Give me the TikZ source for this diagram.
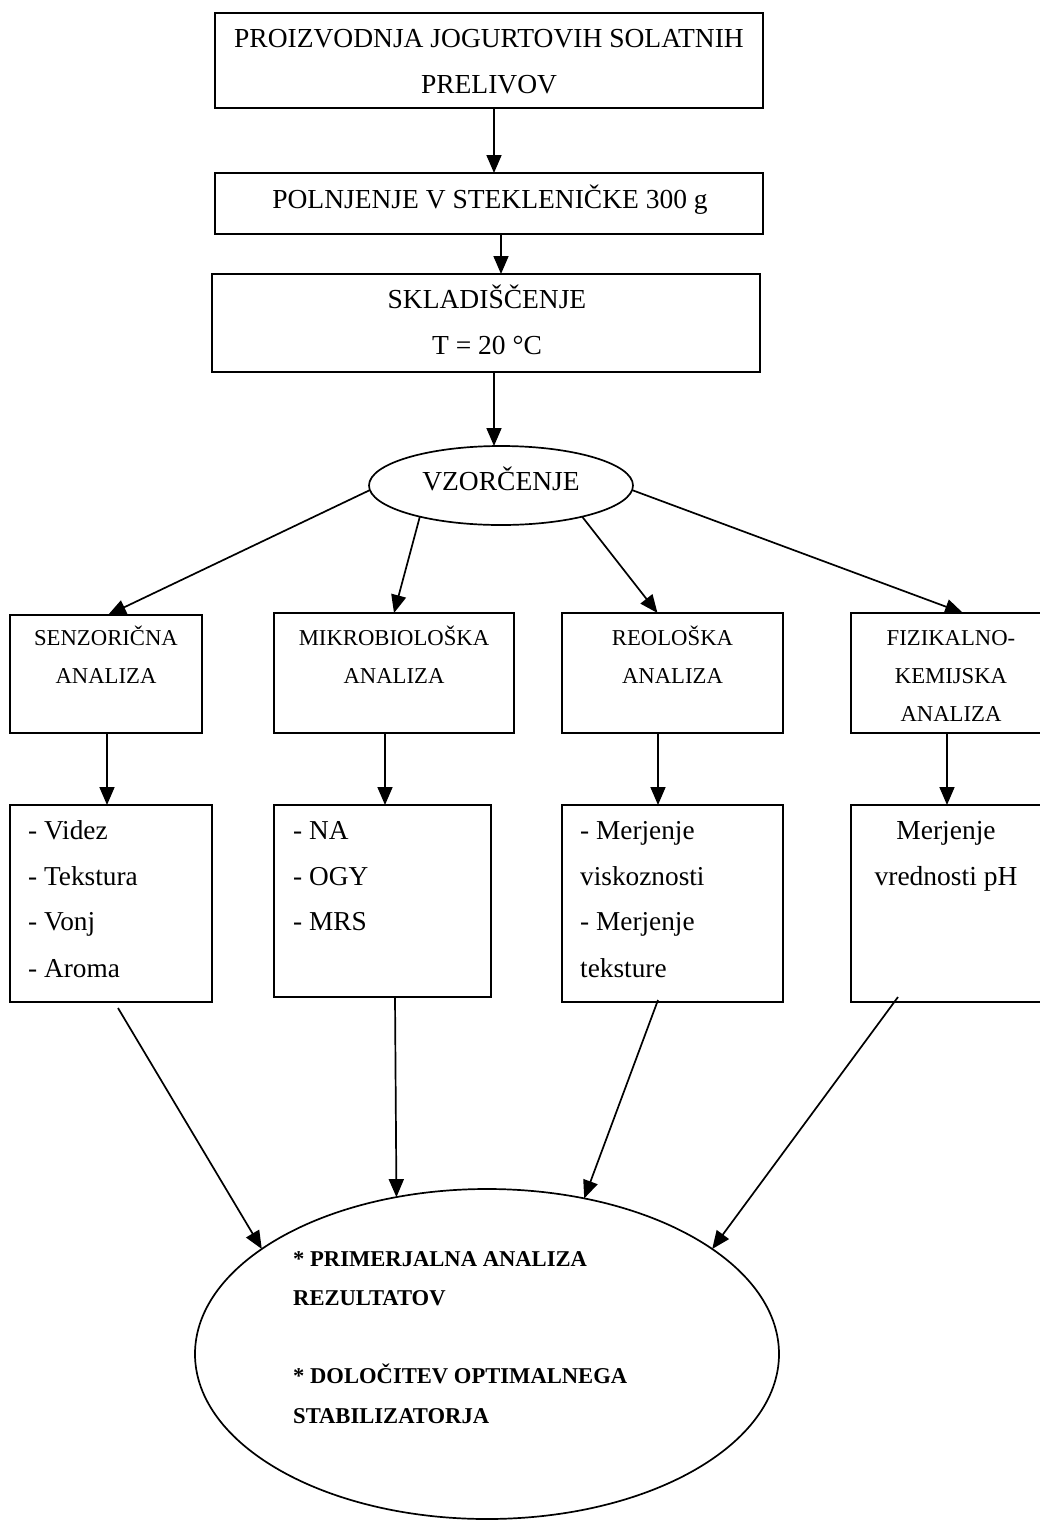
\documentclass[tikz,border=0pt]{standalone}
\usepackage{fontspec}
\setmainfont{Liberation Serif}
\usetikzlibrary{arrows.meta,calc,shapes.geometric}
\begin{document}
\begin{tikzpicture}[x=1pt,y=-1pt,
  box/.style={draw, rectangle, line width=1.9pt, inner sep=0pt, outer sep=0pt},
  oval/.style={draw, ellipse, line width=1.7pt, inner sep=0pt, outer sep=0pt},
  arr/.style={line width=1.7pt, -{Triangle[length=18pt,width=15pt]}},
  ta/.style={inner sep=0pt, anchor=base, font=\fontsize{27.5}{31}\selectfont},
  tal/.style={inner sep=0pt, anchor=base west, font=\fontsize{27.3}{31}\selectfont},
  tb/.style={inner sep=0pt, anchor=base, font=\fontsize{22.7}{26}\selectfont},
  tc/.style={inner sep=0pt, anchor=base west, font=\fontsize{22.6}{26}\selectfont\bfseries}]
\useasboundingbox (0,0) rectangle (1040,1521);

% top chain
\node[box, minimum width=548pt, minimum height=95pt] (b1) at (489,60.5) {};
\node[ta] (b1a) at (489,47) {PROIZVODNJA JOGURTOVIH SOLATNIH};
\node[ta] (b1b) at (489,93) {PRELIVOV};

\node[box, minimum width=548pt, minimum height=61pt] (b2) at (489,203.5) {};
\node[ta] (b2a) at (490,208) {POLNJENJE V STEKLENIČKE 300 g};

\node[box, minimum width=548pt, minimum height=98pt] (b3) at (486,323) {};
\node[ta] (b3a) at (487,308) {SKLADIŠČENJE};
\node[ta] (b3b) at (487,354) {T = 20 °C};

\node[oval, minimum width=264pt, minimum height=79pt] (vz) at (501,485.5) {};
\node[ta] (vzt) at (501,490) {VZORČENJE};

\draw[arr] ($(b1.south)+(5,0)$) -- ($(b2.north)+(5,0)$);
\draw[arr] ($(b2.south)+(12,0)$) -- ($(b3.north)+(15,0)$);
\draw[arr] ($(b3.south)+(8,0)$) -- ($(vz.north)+(-7,0)$);

% row 2
\node[box, minimum width=192pt, minimum height=118pt] (s1) at (106,674) {};
\node[tb] (s1a) at (106,645) {SENZORIČNA};
\node[tb] (s1b) at (106,683) {ANALIZA};

\node[box, minimum width=240pt, minimum height=120pt] (s2) at (394,673) {};
\node[tb] (s2a) at (394,645) {MIKROBIOLOŠKA};
\node[tb] (s2b) at (394,683) {ANALIZA};

\node[box, minimum width=221pt, minimum height=120pt] (s3) at (672.5,673) {};
\node[tb] (s3a) at (672.5,645) {REOLOŠKA};
\node[tb] (s3b) at (672.5,683) {ANALIZA};

\node[box, minimum width=200pt, minimum height=120pt] (s4) at (951,673) {};
\node[tb] (s4a) at (951,645) {FIZIKALNO-};
\node[tb] (s4b) at (951,683) {KEMIJSKA};
\node[tb] (s4c) at (951,721) {ANALIZA};

\draw[arr] (vz.182) -- ($(s1.north)+(2,0)$);
\draw[arr] (vz.201) -- (s2.north);
\draw[arr] (vz.-21) -- ($(s3.north)+(-15,0)$);
\draw[arr] (vz.-2) -- ($(s4.north)+(12,0)$);

% row 3
\node[box, minimum width=202pt, minimum height=197pt] (r1) at (111,903.5) {};
\node[tal] (r1a) at (28,839) {- Videz};
\node[tal] (r1b) at (28,885) {- Tekstura};
\node[tal] (r1c) at (28,930) {- Vonj};
\node[tal] (r1d) at (28,977) {- Aroma};

\node[box, minimum width=217pt, minimum height=192pt] (r2) at (382.5,901) {};
\node[tal] (r2a) at (293,839) {- NA};
\node[tal] (r2b) at (293,885) {- OGY};
\node[tal] (r2c) at (293,930) {- MRS};

\node[box, minimum width=221pt, minimum height=197pt] (r3) at (672.5,903.5) {};
\node[tal] (r3a) at (580,839) {- Merjenje};
\node[tal] (r3b) at (580,885) {viskoznosti};
\node[tal] (r3c) at (580,930) {- Merjenje};
\node[tal] (r3d) at (580,977) {teksture};

\node[box, minimum width=200pt, minimum height=197pt] (r4) at (951,903.5) {};
\node[ta] (r4a) at (946,839) {Merjenje};
\node[ta] (r4b) at (946,885) {vrednosti pH};

\draw[arr] ($(s1.south)+(1,0)$) -- ($(r1.north)+(-4,0)$);
\draw[arr] ($(s2.south)+(-9,0)$) -- ($(r2.north)+(2.5,0)$);
\draw[arr] ($(s3.south)+(-14.5,0)$) -- ($(r3.north)+(-14.5,0)$);
\draw[arr] ($(s4.south)+(-4,0)$) -- ($(r4.north)+(-4,0)$);

% final ellipse
\node[oval, minimum width=584pt, minimum height=330pt] (fin) at (487,1354) {};
\node[tc] (fa) at (293,1266) {* PRIMERJALNA ANALIZA};
\node[tc] (fb) at (293,1305) {REZULTATOV};
\node[tc] (fc) at (293,1383) {* DOLOČITEV OPTIMALNEGA};
\node[tc] (fd) at (293,1423) {STABILIZATORJA};

\draw[arr] ($(r1.south)+(7,6)$) -- (fin.155);
\draw[arr] ($(r2.south)+(12.5,0)$) -- (fin.120);
\draw[arr] ($(r3.south)+(-14.5,-2)$) -- (fin.58);
\draw[arr] ($(r4.south)+(-53,-5)$) -- (fin.25);
\end{tikzpicture}
\end{document}
